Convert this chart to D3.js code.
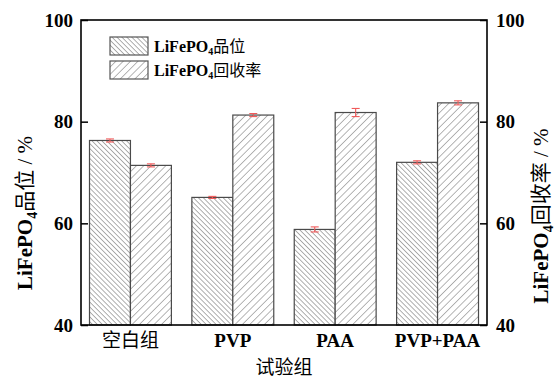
<!DOCTYPE html>
<html>
<head>
<meta charset="utf-8">
<script src="https://cdn.jsdelivr.net/npm/d3@7/dist/d3.min.js"></script>
<style>
  html, body { margin: 0; padding: 0; background: #fff; }
  svg { display: block; }
  .serif { font-family: "Liberation Serif", "Times New Roman", serif; font-weight: bold; }
  .cjk { font-family: "Noto Sans CJK SC", sans-serif; }
</style>
</head>
<body>
<svg id="chart" width="558" height="378"></svg>
<script>
// Groups and measured values (%)
const categories = ["空白组", "PVP", "PAA", "PVP+PAA"];
const gradeValues = [76.3, 65.1, 58.8, 72.0];      // LiFePO4 品位
const gradeErrors = [0.3, 0.2, 0.5, 0.3];
const recoveryValues = [71.4, 81.3, 81.8, 83.7];  // LiFePO4 回收率
const recoveryErrors = [0.3, 0.3, 0.8, 0.4];
const yTicks = [40, 60, 80, 100];

const svg = d3.select("#chart");
const plotL = 81, plotR = 487, plotT = 20, plotB = 325;

const x = d3.scaleBand().domain(categories).range([plotL, plotR])
  .paddingInner(0.2).paddingOuter(0.083);
const sub = d3.scaleBand().domain(["grade", "recovery"]).range([0, x.bandwidth()]);
const y = d3.scaleLinear().domain([40, 100]).range([plotB, plotT]);

// Hatch patterns
const defs = svg.append("defs");
function hatch(id, spacing, dir, color) {
  const p = defs.append("pattern").attr("id", id)
    .attr("patternUnits", "userSpaceOnUse")
    .attr("width", spacing).attr("height", spacing)
    .attr("patternTransform", `rotate(${dir})`);
  p.append("rect").attr("width", spacing).attr("height", spacing).attr("fill", "#fff");
  p.append("line").attr("x1", 0).attr("y1", 0).attr("x2", 0).attr("y2", spacing)
    .attr("stroke", color).attr("stroke-width", 1.1);
}
hatch("hatchGrade", 3.5, -45, "#6e6e6e");
hatch("hatchRecovery", 5.2, 45, "#7a7a7a");

const series = [
  { key: "grade", values: gradeValues, errors: gradeErrors, fill: "url(#hatchGrade)" },
  { key: "recovery", values: recoveryValues, errors: recoveryErrors, fill: "url(#hatchRecovery)" }
];

// Bars
series.forEach(s => {
  const g = svg.append("g");
  g.selectAll("rect").data(categories).join("rect")
    .attr("x", d => x(d) + sub(s.key))
    .attr("width", sub.bandwidth())
    .attr("y", (d, i) => y(s.values[i]))
    .attr("height", (d, i) => plotB - y(s.values[i]))
    .attr("fill", s.fill)
    .attr("stroke", "#4a4a4a").attr("stroke-width", 1.2);
});

// Error bars
series.forEach(s => {
  const g = svg.append("g").attr("stroke", "#f05a5a").attr("stroke-width", 1.1).attr("fill", "none");
  categories.forEach((c, i) => {
    const cx = x(c) + sub(s.key) + sub.bandwidth() / 2;
    const y1 = y(s.values[i] + s.errors[i]), y0 = y(s.values[i] - s.errors[i]);
    g.append("line").attr("x1", cx).attr("x2", cx).attr("y1", y1).attr("y2", y0);
    g.append("line").attr("x1", cx - 4).attr("x2", cx + 4).attr("y1", y1).attr("y2", y1);
    g.append("line").attr("x1", cx - 4).attr("x2", cx + 4).attr("y1", y0).attr("y2", y0);
  });
});

// Axes with inward ticks
const axL = svg.append("g").attr("transform", `translate(${plotL},0)`)
  .call(d3.axisRight(y).tickValues(yTicks).tickSize(7).tickFormat(""));
const axR = svg.append("g").attr("transform", `translate(${plotR},0)`)
  .call(d3.axisLeft(y).tickValues(yTicks).tickSize(7).tickFormat(""));
[axL, axR].forEach(a => {
  a.select(".domain").remove();
  a.selectAll("line").attr("stroke", "#000").attr("stroke-width", 1.5);
});

// Frame
svg.append("rect").attr("x", plotL).attr("y", plotT)
  .attr("width", plotR - plotL).attr("height", plotB - plotT)
  .attr("fill", "none").attr("stroke", "#000").attr("stroke-width", 1.6);

// Tick labels
svg.append("g").selectAll("text").data(yTicks).join("text")
  .attr("class", "serif").attr("font-size", 19)
  .attr("x", plotL - 8).attr("y", d => y(d)).attr("dy", "0.35em")
  .attr("text-anchor", "end").text(d => d);
svg.append("g").selectAll("text").data(yTicks).join("text")
  .attr("class", "serif").attr("font-size", 19)
  .attr("x", plotR + 9).attr("y", d => y(d)).attr("dy", "0.35em")
  .attr("text-anchor", "start").text(d => d);

// Category labels
svg.append("g").selectAll("text").data(categories).join("text")
  .attr("class", (d, i) => i === 0 ? "cjk" : "serif")
  .attr("font-size", 19)
  .attr("font-weight", (d, i) => i === 0 ? "normal" : "bold")
  .attr("x", d => x(d) + x.bandwidth() / 2).attr("y", 340).attr("dy", "0.35em")
  .attr("text-anchor", "middle").text(d => d);

// X axis title
svg.append("text").attr("class", "cjk").attr("font-size", 19)
  .attr("x", (plotL + plotR) / 2).attr("y", 367).attr("dy", "0.35em")
  .attr("text-anchor", "middle").text("试验组");

// Y axis titles (rotated)
function yTitle(cx, cy, cn) {
  const t = svg.append("text").attr("transform", `translate(${cx},${cy}) rotate(-90)`)
    .attr("text-anchor", "middle").attr("font-size", 21);
  t.append("tspan").attr("class", "serif").attr("dy", "0.35em").text("LiFePO");
  t.append("tspan").attr("class", "serif").attr("font-size", 14).attr("dy", "0.3em").text("4");
  t.append("tspan").attr("class", "cjk").attr("dy", "-0.2em").text(cn);
  t.append("tspan").attr("font-family", "Liberation Serif, serif").text(" / %");
}
yTitle(25, 213, "品位");
yTitle(541, 216, "回收率");

// Legend
const legendItems = [
  { label: "品位", fill: "url(#hatchGrade)" },
  { label: "回收率", fill: "url(#hatchRecovery)" }
];
const lg = svg.append("g");
legendItems.forEach((d, i) => {
  const yy = 37 + i * 24;
  lg.append("rect").attr("x", 110).attr("y", yy).attr("width", 38).attr("height", 18)
    .attr("fill", d.fill).attr("stroke", "#555").attr("stroke-width", 1.2);
  const t = lg.append("text").attr("x", 154).attr("y", yy + 9).attr("font-size", 16);
  t.append("tspan").attr("class", "serif").attr("dy", "0.35em").text("LiFePO");
  t.append("tspan").attr("class", "serif").attr("font-size", 10).attr("dy", "0.3em").text("4");
  t.append("tspan").attr("class", "cjk").attr("dy", "-0.19em").text(d.label);
});
</script>
</body>
</html>
